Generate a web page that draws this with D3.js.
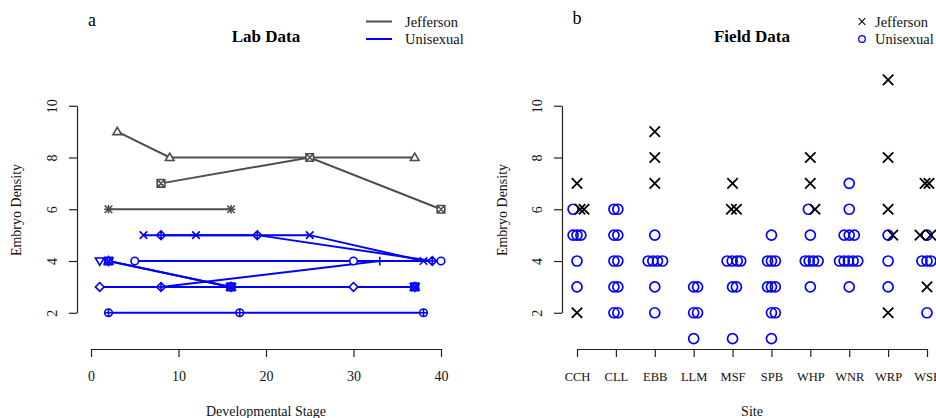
<!DOCTYPE html>
<html>
<head>
<meta charset="utf-8">
<script src="https://cdn.jsdelivr.net/npm/d3@7"></script>
<style>
  body { margin: 0; background: #fff; }
  svg { font-family: "Liberation Serif", "Times New Roman", serif; }
</style>
</head>
<body>
<div class="main"></div>
<script>
// ---- lab data (panel a): one entry per individual ----
var groups = ["Jefferson", "Unisexual"];
var groupColours = ["#4d4d4d", "#0000ff"];

var labGroup   = [0, 0, 0, 1, 1, 1, 1, 1, 1, 1, 1, 1];
var labPch     = [2, 7, 8, 6, 7, 11, 1, 5, 9, 4, 3, 10];
var labStage   = [[3, 9, 37], [8, 25, 40], [2, 16], [1], [2, 16, 37], [2, 16, 37],
                  [5, 30, 40], [1, 8, 30], [8, 19, 39], [6, 12, 25, 38], [8, 33], [2, 17, 38]];
var labDensity = [[9, 8, 8], [7, 8, 6], [6, 6], [4], [4, 3, 3], [4, 3, 3],
                  [4, 4, 4], [3, 3, 3], [5, 5, 4], [5, 5, 5, 4], [3, 4], [2, 2, 2]];

// ---- field data (panel b) ----
var sites = ["CCH", "CLL", "EBB", "LLM", "MSF", "SPB", "WHP", "WNR", "WRP", "WSE"];

var jeffSite    = [0, 0, 0, 0, 2, 2, 2, 4, 4, 4, 6, 6, 6, 8, 8, 8, 8, 8, 9, 9, 9, 9, 9];
var jeffJitter  = [0, 0.08, 0.18, 0, 0, 0, 0, 0, -0.03, 0.1, 0, 0, 0.12, 0, 0, 0, 0.12, 0, -0.05, 0.05, -0.18, 0.1, 0];
var jeffDensity = [7, 6, 6, 2, 9, 8, 7, 7, 6, 6, 8, 7, 6, 11, 8, 6, 5, 2, 7, 7, 5, 5, 3];

var uniSite    = [0, 0, 0, 0, 0, 0,
                  1, 1, 1, 1, 1, 1, 1, 1, 1, 1,
                  2, 2, 2, 2, 2, 2, 2,
                  3, 3, 3, 3, 3,
                  4, 4, 4, 4, 4, 4, 4,
                  5, 5, 5, 5, 5, 5, 5, 5, 5, 5,
                  6, 6, 6, 6, 6, 6, 6,
                  7, 7, 7, 7, 7, 7, 7, 7, 7, 7, 7,
                  8, 8, 8,
                  9, 9, 9, 9, 9];
var uniJitter  = [-0.1, -0.1, 0, 0.1, 0, 0,
                  -0.05, 0.05, -0.05, 0.05, -0.05, 0.05, -0.05, 0.05, -0.05, 0.05,
                  0, -0.17, -0.05, 0.07, 0.2, 0, 0,
                  0, 0.1, 0, 0.1, 0,
                  -0.14, -0.01, 0.12, 0.21, 0, 0.1, 0,
                  0, -0.1, 0, 0.1, -0.1, 0, 0.1, 0, 0.1, 0,
                  -0.05, 0, -0.13, -0.03, 0.08, 0.2, 0,
                  0, 0, -0.13, 0, 0.13, -0.25, -0.13, -0.02, 0.1, 0.22, 0,
                  0, 0, 0,
                  0, -0.13, 0, 0.1, 0];
var uniDensity = [6, 5, 5, 5, 4, 3,
                  6, 6, 5, 5, 4, 4, 3, 3, 2, 2,
                  5, 4, 4, 4, 4, 3, 2,
                  3, 3, 2, 2, 1,
                  4, 4, 4, 4, 3, 3, 1,
                  5, 4, 4, 4, 3, 3, 3, 2, 2, 1,
                  6, 5, 4, 4, 4, 4, 3,
                  7, 6, 5, 5, 5, 4, 4, 4, 4, 4, 3,
                  5, 4, 3,
                  5, 4, 4, 4, 2];

var yTicks = [2, 4, 6, 8, 10];
var xTicks = [0, 10, 20, 30, 40];

// R style point symbols, path centred on 0,0
function pchPath(pch, s) {
  var c = "M" + (-s) + ",0A" + s + "," + s + " 0 1,0 " + s + ",0A" + s + "," + s + " 0 1,0 " + (-s) + ",0";
  var h = s * 1.15;
  var triUp = "M0," + (-h) + "L" + h + "," + (h * 0.7) + "L" + (-h) + "," + (h * 0.7) + "Z";
  var triDn = "M0," + h + "L" + h + "," + (-h * 0.7) + "L" + (-h) + "," + (-h * 0.7) + "Z";
  var sq = "M" + (-s) + "," + (-s) + "h" + (2 * s) + "v" + (2 * s) + "h" + (-2 * s) + "Z";
  var x = "M" + (-s) + "," + (-s) + "L" + s + "," + s + "M" + (-s) + "," + s + "L" + s + "," + (-s);
  var plus = "M" + (-h) + ",0H" + h + "M0," + (-h) + "V" + h;
  var dia = "M0," + (-h) + "L" + h + ",0L0," + h + "L" + (-h) + ",0Z";
  if (pch == 1) return c;
  if (pch == 2) return triUp;
  if (pch == 3) return plus;
  if (pch == 4) return x;
  if (pch == 5) return dia;
  if (pch == 6) return triDn;
  if (pch == 7) return sq + x;
  if (pch == 8) return x + plus;
  if (pch == 9) return dia + plus;
  if (pch == 10) return c + plus;
  if (pch == 11) return triUp + triDn;
  return c;
}

var svg = d3.select(".main").append("svg")
  .attr("width", 936)
  .attr("height", 418)
  .style("background", "#fff");

// shared y scale (both panels use the same range)
var yScale = d3.scaleLinear().domain([0.6, 11.4]).range([349, 69.5]);
var yAxisScale = d3.scaleLinear().domain([2, 10]).range([yScale(2), yScale(10)]);

function drawYAxis(xPos, labelX) {
  var g = svg.append("g")
    .attr("transform", "translate(" + xPos + ",0)")
    .call(d3.axisLeft(yAxisScale).tickValues(yTicks).tickSizeOuter(0).tickSizeInner(8).tickFormat(d3.format("d")));
  g.select(".domain").attr("stroke", "#222").attr("stroke-width", 1.2);
  g.selectAll(".tick line").attr("stroke", "#222").attr("stroke-width", 1.2);
  g.selectAll(".tick text")
    .attr("x", 0).attr("y", -20).attr("dy", null)
    .attr("transform", "rotate(-90)")
    .attr("text-anchor", "middle")
    .style("font-family", "Liberation Serif")
    .style("font-size", "14px")
    .attr("fill", "#111");
  svg.append("text")
    .attr("transform", "translate(" + labelX + "," + 210 + ") rotate(-90)")
    .attr("text-anchor", "middle")
    .style("font-size", "14px")
    .attr("fill", "#111")
    .text("Embryo Density");
}

function styleXAxis(g) {
  g.select(".domain").attr("stroke", "#222").attr("stroke-width", 1.2);
  g.selectAll(".tick line").attr("stroke", "#222").attr("stroke-width", 1.2);
  g.selectAll(".tick text")
    .attr("y", 28)
    .attr("dy", "0.32em")
    .style("font-family", "Liberation Serif")
    .attr("fill", "#111");
}

// ---------------- panel a: Lab Data ----------------
var xScale = d3.scaleLinear().domain([0, 40]).range([91, 441]);

drawYAxis(77, 21);

var xa = svg.append("g")
  .attr("transform", "translate(0,349)")
  .call(d3.axisBottom(xScale).tickValues(xTicks).tickSizeOuter(0).tickSizeInner(8));
styleXAxis(xa);
xa.selectAll(".tick text").style("font-size", "14px");

svg.append("text").attr("x", 266).attr("y", 42).attr("text-anchor", "middle")
  .style("font-size", "17px").style("font-weight", "bold").text("Lab Data");
svg.append("text").attr("x", 92).attr("y", 26).attr("text-anchor", "middle")
  .style("font-size", "18px").text("a");
svg.append("text").attr("x", 266).attr("y", 416).attr("text-anchor", "middle")
  .style("font-size", "14px").attr("fill", "#111").text("Developmental Stage");

var lineFunc = d3.line()
  .x(function(d) { return xScale(d[0]); })
  .y(function(d) { return yScale(d[1]); });

var labSeries = labStage.map(function(st, i) {
  return { group: labGroup[i], pch: labPch[i],
           pts: st.map(function(s, j) { return [s, labDensity[i][j]]; }) };
});

var labG = svg.append("g").attr("class", "lab");
labG.selectAll("path.line")
  .data(labSeries)
  .enter().append("path")
  .attr("class", "line")
  .attr("d", function(d) { return lineFunc(d.pts); })
  .attr("fill", "none")
  .attr("stroke", function(d) { return groupColours[d.group]; })
  .attr("stroke-width", 2);

labSeries.forEach(function(s) {
  labG.selectAll(null)
    .data(s.pts)
    .enter().append("path")
    .attr("transform", function(d) { return "translate(" + xScale(d[0]) + "," + yScale(d[1]) + ")"; })
    .attr("d", pchPath(s.pch, 3.8))
    .attr("fill", [1, 2, 5, 6, 7, 9, 10, 11].indexOf(s.pch) != -1 ? "#fff" : "none")
    .attr("stroke", groupColours[s.group])
    .attr("stroke-width", 1.6);
});

// legend a
var legA = svg.append("g");
groups.forEach(function(g, i) {
  legA.append("line")
    .attr("x1", 366).attr("x2", 392)
    .attr("y1", 21.5 + i * 17.5).attr("y2", 21.5 + i * 17.5)
    .attr("stroke", groupColours[i]).attr("stroke-width", 2);
  legA.append("text")
    .attr("x", 405).attr("y", 26.5 + i * 17.5)
    .style("font-size", "14.5px").attr("fill", "#111")
    .text(g);
});

// ---------------- panel b: Field Data ----------------
var siteScale = d3.scalePoint().domain(sites).range([577, 927]);
var step = siteScale.step();

drawYAxis(562, 507);

var xb = svg.append("g")
  .attr("transform", "translate(0,349)")
  .call(d3.axisBottom(siteScale).tickSizeOuter(0).tickSizeInner(8));
styleXAxis(xb);
xb.selectAll(".tick text").style("font-size", "12.5px");

svg.append("text").attr("x", 752).attr("y", 42).attr("text-anchor", "middle")
  .style("font-size", "17px").style("font-weight", "bold").text("Field Data");
svg.append("text").attr("x", 577).attr("y", 24).attr("text-anchor", "middle")
  .style("font-size", "18px").text("b");
svg.append("text").attr("x", 752).attr("y", 416).attr("text-anchor", "middle")
  .style("font-size", "14px").attr("fill", "#111").text("Site");

svg.append("clipPath").attr("id", "clipb")
  .append("rect").attr("x", 540).attr("y", 60).attr("width", 396).attr("height", 300);

var fieldG = svg.append("g").attr("clip-path", "url(#clipb)");

var uniPts = uniSite.map(function(s, i) { return { site: sites[s], j: uniJitter[i], v: uniDensity[i] }; });
var jeffPts = jeffSite.map(function(s, i) { return { site: sites[s], j: jeffJitter[i], v: jeffDensity[i] }; });

fieldG.selectAll("circle.uni")
  .data(uniPts)
  .enter().append("circle")
  .attr("class", "uni")
  .attr("cx", function(d) { return siteScale(d.site) + d.j * step; })
  .attr("cy", function(d) { return yScale(d.v); })
  .attr("r", 5)
  .attr("fill", "none")
  .attr("stroke", "#0000ff")
  .attr("stroke-width", 1.7);

fieldG.selectAll("path.jeff")
  .data(jeffPts)
  .enter().append("path")
  .attr("class", "jeff")
  .attr("transform", function(d) { return "translate(" + (siteScale(d.site) + d.j * step) + "," + yScale(d.v) + ")"; })
  .attr("d", pchPath(4, 5.2))
  .attr("stroke", "#000")
  .attr("stroke-width", 1.8);

// legend b
var legB = svg.append("g");
legB.append("path")
  .attr("transform", "translate(862,21.5)")
  .attr("d", pchPath(4, 3.3))
  .attr("stroke", "#000").attr("stroke-width", 1.1);
legB.append("circle")
  .attr("cx", 862).attr("cy", 39).attr("r", 3.3)
  .attr("fill", "none").attr("stroke", "#0000ff").attr("stroke-width", 1.3);
groups.forEach(function(g, i) {
  legB.append("text")
    .attr("x", 875).attr("y", 26.5 + i * 17.5)
    .style("font-size", "14.5px").attr("fill", "#111")
    .text(g);
});
</script>
</body>
</html>
